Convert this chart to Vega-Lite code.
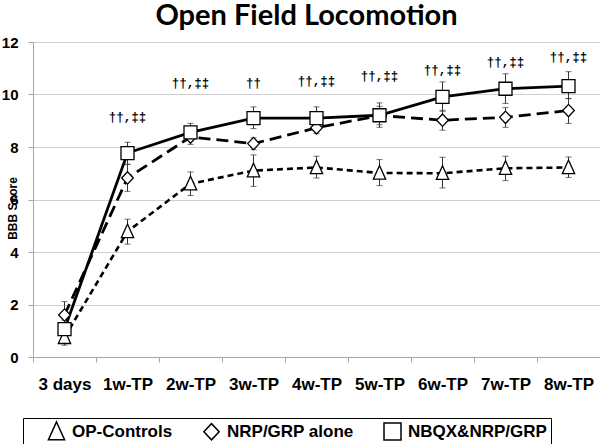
{
  "$schema": "https://vega.github.io/schema/vega-lite/v6.json",
  "width": 567,
  "height": 315,
  "autosize": {"type": "none"},
  "padding": {"left": 33, "top": 42, "right": 0, "bottom": 87},
  "background": "white",
  "title": {
    "text": "Open Field Locomotion",
    "font": "Lato",
    "fontSize": 29,
    "fontWeight": "bold",
    "color": "black",
    "anchor": "middle",
    "offset": 4,
    "dx": -10
  },
  "config": {
    "view": {"stroke": null},
    "axis": {
      "labelFont": "Liberation Sans",
      "labelFontWeight": "bold",
      "labelColor": "black",
      "domainColor": "#a6a6a6",
      "tickColor": "#a6a6a6",
      "gridColor": "#cfcfcf",
      "titleFont": "Liberation Sans",
      "titleColor": "black"
    }
  },
  "datasets": {
    "scores": [
      {"time": "3 days", "group": "OP-Controls", "mean": 0.75, "lo": 0.45, "hi": 1.05},
      {"time": "1w-TP", "group": "OP-Controls", "mean": 4.78, "lo": 4.3, "hi": 5.25},
      {"time": "2w-TP", "group": "OP-Controls", "mean": 6.6, "lo": 6.15, "hi": 7.05},
      {"time": "3w-TP", "group": "OP-Controls", "mean": 7.1, "lo": 6.5, "hi": 7.7},
      {"time": "4w-TP", "group": "OP-Controls", "mean": 7.22, "lo": 6.82, "hi": 7.65},
      {"time": "5w-TP", "group": "OP-Controls", "mean": 7.01, "lo": 6.53, "hi": 7.52},
      {"time": "6w-TP", "group": "OP-Controls", "mean": 7.0, "lo": 6.44, "hi": 7.61},
      {"time": "7w-TP", "group": "OP-Controls", "mean": 7.19, "lo": 6.72, "hi": 7.65},
      {"time": "8w-TP", "group": "OP-Controls", "mean": 7.22, "lo": 6.84, "hi": 7.62},
      {"time": "3 days", "group": "NRP/GRP alone", "mean": 1.6, "lo": 1.3, "hi": 2.11},
      {"time": "1w-TP", "group": "NRP/GRP alone", "mean": 6.82, "lo": 6.31, "hi": 7.33},
      {"time": "2w-TP", "group": "NRP/GRP alone", "mean": 8.38, "lo": 8.1, "hi": 8.65},
      {"time": "3w-TP", "group": "NRP/GRP alone", "mean": 8.13, "lo": 7.9, "hi": 8.35},
      {"time": "4w-TP", "group": "NRP/GRP alone", "mean": 8.73, "lo": 8.51, "hi": 8.95},
      {"time": "5w-TP", "group": "NRP/GRP alone", "mean": 9.2, "lo": 8.85, "hi": 9.55},
      {"time": "6w-TP", "group": "NRP/GRP alone", "mean": 9.02, "lo": 8.64, "hi": 9.4},
      {"time": "7w-TP", "group": "NRP/GRP alone", "mean": 9.13, "lo": 8.75, "hi": 9.5},
      {"time": "8w-TP", "group": "NRP/GRP alone", "mean": 9.39, "lo": 8.9, "hi": 9.85},
      {"time": "3 days", "group": "NBQX&NRP/GRP", "mean": 1.06, "lo": 0.7, "hi": 1.4},
      {"time": "1w-TP", "group": "NBQX&NRP/GRP", "mean": 7.77, "lo": 7.35, "hi": 8.18},
      {"time": "2w-TP", "group": "NBQX&NRP/GRP", "mean": 8.56, "lo": 8.3, "hi": 8.9},
      {"time": "3w-TP", "group": "NBQX&NRP/GRP", "mean": 9.1, "lo": 8.7, "hi": 9.53},
      {"time": "4w-TP", "group": "NBQX&NRP/GRP", "mean": 9.1, "lo": 8.7, "hi": 9.53},
      {"time": "5w-TP", "group": "NBQX&NRP/GRP", "mean": 9.21, "lo": 8.75, "hi": 9.68},
      {"time": "6w-TP", "group": "NBQX&NRP/GRP", "mean": 9.91, "lo": 9.36, "hi": 10.48},
      {"time": "7w-TP", "group": "NBQX&NRP/GRP", "mean": 10.22, "lo": 9.66, "hi": 10.79},
      {"time": "8w-TP", "group": "NBQX&NRP/GRP", "mean": 10.32, "lo": 9.84, "hi": 10.87}
    ],
    "marks": [
      {"time": "1w-TP", "label": "††,‡‡", "level": 9.16},
      {"time": "2w-TP", "label": "††,‡‡", "level": 10.42},
      {"time": "3w-TP", "label": "††", "level": 10.42},
      {"time": "4w-TP", "label": "††,‡‡", "level": 10.5},
      {"time": "5w-TP", "label": "††,‡‡", "level": 10.72},
      {"time": "6w-TP", "label": "††,‡‡", "level": 10.93},
      {"time": "7w-TP", "label": "††,‡‡", "level": 11.23},
      {"time": "8w-TP", "label": "††,‡‡", "level": 11.41}
    ]
  },
  "encoding": {
    "x": {
      "field": "time",
      "type": "nominal",
      "sort": ["3 days", "1w-TP", "2w-TP", "3w-TP", "4w-TP", "5w-TP", "6w-TP", "7w-TP", "8w-TP"],
      "scale": {"type": "band", "paddingInner": 0, "paddingOuter": 0},
      "axis": {
        "title": null,
        "labelAngle": 0,
        "labelFontSize": 17,
        "tickBand": "extent",
        "tickSize": 5,
        "labelPadding": 27,
        "labelBaseline": "alphabetic",
        "grid": false
      }
    },
    "y": {
      "field": "mean",
      "type": "quantitative",
      "title": "BBB Score",
      "scale": {"domain": [0, 12], "nice": false},
      "axis": {
        "titleFontSize": 12,
        "titleFontWeight": "bold",
        "titleAngle": -90,
        "titleBaseline": "middle",
        "titleX": -21,
        "titleY": 166,
        "values": [0, 2, 4, 6, 8, 10, 12],
        "labelFontSize": 15,
        "tickSize": 5,
        "labelPadding": 10,
        "grid": true
      }
    }
  },
  "layer": [
    {
      "data": {"name": "scores"},
      "transform": [{"filter": "datum.group === 'OP-Controls'"}],
      "mark": {"type": "line", "color": "black", "strokeWidth": 2.6, "strokeDash": [6, 4]}
    },
    {
      "data": {"name": "scores"},
      "transform": [{"filter": "datum.group === 'NRP/GRP alone'"}],
      "mark": {"type": "line", "color": "black", "strokeWidth": 2.8, "strokeDash": [12, 6]}
    },
    {
      "data": {"name": "scores"},
      "transform": [{"filter": "datum.group === 'NBQX&NRP/GRP'"}],
      "mark": {"type": "line", "color": "black", "strokeWidth": 2.8}
    },
    {
      "data": {"name": "scores"},
      "mark": {"type": "errorbar", "ticks": {"size": 6, "color": "#333333", "thickness": 1}, "rule": {"color": "#333333", "strokeWidth": 1}},
      "encoding": {
        "y": {"field": "lo", "type": "quantitative", "title": "BBB Score"},
        "y2": {"field": "hi"},
        "detail": {"field": "group"}
      }
    },
    {
      "data": {"name": "scores"},
      "mark": {"type": "point", "filled": true, "fill": "white", "stroke": "black", "strokeWidth": 1.3, "opacity": 1, "size": 169},
      "encoding": {
        "shape": {
          "field": "group",
          "type": "nominal",
          "scale": {
            "domain": ["OP-Controls", "NRP/GRP alone", "NBQX&NRP/GRP"],
            "range": ["M0,-1.15L0.95,0.95L-0.95,0.95Z", "M0,-0.95L0.9,0L0,0.95L-0.9,0Z", "M-1,-1H1V1H-1Z"]
          },
          "legend": {
            "title": " ",
            "titleOrient": "left",
            "titleFontSize": 17,
            "titlePadding": 20,
            "orient": "none",
            "direction": "horizontal",
            "legendX": -10,
            "legendY": 376,
            "strokeColor": "black",
            "fillColor": "white",
            "padding": 4,
            "labelFont": "Liberation Sans",
            "labelFontWeight": "bold",
            "labelFontSize": 17,
            "labelColor": "black",
            "labelOffset": 6,
            "columnPadding": 27,
            "symbolSize": 289,
            "labelLimit": 400,
            "encode": {
              "symbols": {
                "update": {
                  "size": {"value": 110},
                  "fill": {"value": "white"},
                  "stroke": {"value": "black"},
                  "strokeWidth": {"value": 1.3},
                  "opacity": {"value": 1}
                }
              }
            }
          }
        }
      }
    },
    {
      "data": {"name": "marks"},
      "mark": {"type": "text", "font": "Liberation Mono", "fontSize": 12.5, "fontWeight": "bold", "color": "black", "baseline": "middle"},
      "encoding": {
        "y": {"field": "level", "type": "quantitative", "title": "BBB Score"},
        "text": {"field": "label"}
      }
    }
  ]
}
